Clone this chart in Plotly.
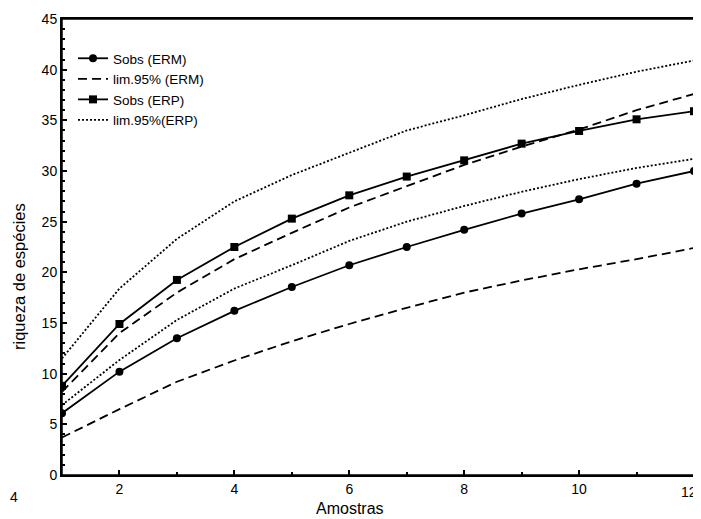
import plotly.graph_objects as go

amostras = list(range(1, 13))
sobs_erm = [6.1, 10.2, 13.5, 16.2, 18.55, 20.7, 22.5, 24.2, 25.8, 27.2, 28.75, 30.0]
erm_upper = [8.2, 14.0, 18.0, 21.3, 23.9, 26.4, 28.5, 30.6, 32.4, 34.1, 36.0, 37.6]
erm_lower = [3.7, 6.5, 9.2, 11.3, 13.2, 14.9, 16.5, 18.0, 19.2, 20.3, 21.3, 22.4]
sobs_erp = [8.8, 14.9, 19.25, 22.5, 25.3, 27.6, 29.45, 31.05, 32.7, 33.95, 35.1, 35.9]
erp_upper = [11.5, 18.4, 23.3, 27.0, 29.6, 31.8, 34.0, 35.5, 37.1, 38.5, 39.8, 40.9]
erp_lower = [6.9, 11.35, 15.3, 18.4, 20.7, 23.1, 25.0, 26.55, 27.95, 29.2, 30.3, 31.2]

x_ticks = [2, 4, 6, 8, 10, 12]
x_tick_labels = ["2", "4", "6", "8", "10", ""]  # "12" drawn as annotation (sits at page edge)
y_ticks = [0, 5, 10, 15, 20, 25, 30, 35, 40, 45]

FONT = "Liberation Sans, Arial, sans-serif"
# page body has an 8px default margin, so the figure is offset by 8px
OFF = 8
W, H = 701 - OFF, 519 - OFF
PL, PR, PT, PB = 62, 694, 19, 475  # plot area in window pixels

fig = go.Figure()
fig.add_trace(go.Scatter(x=amostras, y=sobs_erm, name="Sobs (ERM)", mode="lines+markers",
                         line=dict(color="black", width=1.8),
                         marker=dict(symbol="circle", size=8, color="black")))
fig.add_trace(go.Scatter(x=amostras, y=erm_upper, name="lim.95% (ERM)", mode="lines",
                         line=dict(color="black", width=1.8, dash="9px,5px"), legendgroup="erm"))
fig.add_trace(go.Scatter(x=amostras, y=sobs_erp, name="Sobs (ERP)", mode="lines+markers",
                         line=dict(color="black", width=1.8),
                         marker=dict(symbol="square", size=8, color="black")))
fig.add_trace(go.Scatter(x=amostras, y=erp_upper, name="lim.95%(ERP)", mode="lines",
                         line=dict(color="black", width=1.8, dash="2px,2px"), legendgroup="erp"))
fig.add_trace(go.Scatter(x=amostras, y=erm_lower, name="lim.95% (ERM)", mode="lines",
                         line=dict(color="black", width=1.8, dash="9px,5px"), legendgroup="erm",
                         showlegend=False))
fig.add_trace(go.Scatter(x=amostras, y=erp_lower, name="lim.95%(ERP)", mode="lines",
                         line=dict(color="black", width=1.8, dash="2px,2px"), legendgroup="erp",
                         showlegend=False))

axis_common = dict(showline=True, linecolor="black", linewidth=2, mirror=True,
                   ticks="inside", ticklen=5, tickwidth=1.5, tickcolor="black",
                   showgrid=False, zeroline=False, ticklabeloverflow="allow",
                   tickfont=dict(family=FONT, size=14, color="black"))

fig.update_xaxes(range=[1, 12], tickvals=x_ticks, ticktext=x_tick_labels,
                 minor=dict(dtick=1, tick0=1, ticks="inside", ticklen=3, tickcolor="black", tickwidth=1.5),
                 **axis_common)
fig.update_yaxes(range=[0, 45], tickvals=y_ticks, ticktext=[str(v) for v in y_ticks],
                 minor=dict(dtick=1, tick0=0, ticks="inside", ticklen=3, tickcolor="black", tickwidth=1.5),
                 **axis_common)


def px2paper(px, py):
    return (px - PL) / (PR - PL), (PB - py) / (PB - PT)


ann = []
for text, px, py, ang, size, xa in [("Amostras", 350, 509, 0, 16, "center"),
                                    ("riqueza de espécies", 19, 277, -90, 16.5, "center"),
                                    ("4", 8, 497, 0, 14, "left"),
                                    ("12", 699, 492, 0, 14, "right")]:
    ax, ay = px2paper(px, py)
    ann.append(dict(text=text, x=ax, y=ay, xref="paper", yref="paper", showarrow=False,
                    xanchor=xa, yanchor="middle", textangle=ang,
                    font=dict(family=FONT, size=size, color="black")))

lx, ly = px2paper(73, 43)
fig.update_layout(
    width=W, height=H,
    margin=dict(l=PL - OFF, r=OFF + W - PR, t=PT - OFF, b=OFF + H - PB, autoexpand=False),
    paper_bgcolor="white", plot_bgcolor="white",
    font=dict(family=FONT, color="black"),
    showlegend=True,
    legend=dict(x=lx, y=ly, xanchor="left", yanchor="top",
                bgcolor="rgba(0,0,0,0)", font=dict(family=FONT, size=13.5, color="black"),
                tracegroupgap=0, itemwidth=30),
    annotations=ann,
    shapes=[dict(type="rect", xref="paper", yref="paper", x0=0, x1=1, y0=0, y1=1,
                 line=dict(color="black", width=1.5), layer="above")],
)

fig.write_html("out.html")
